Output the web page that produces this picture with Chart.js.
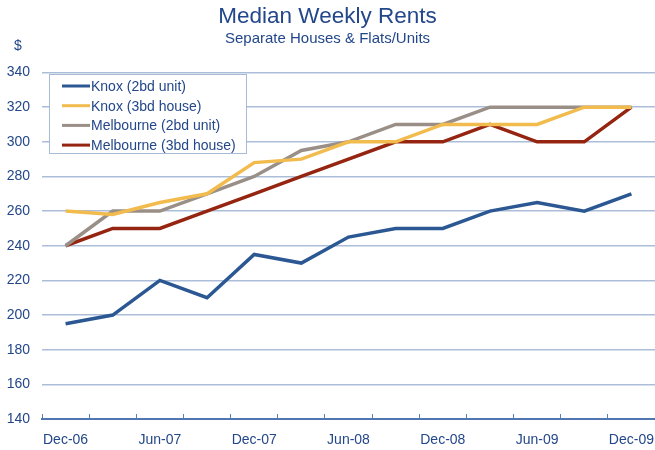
<!DOCTYPE html>
<html>
<head>
<meta charset="utf-8">
<script src="https://cdn.jsdelivr.net/npm/chart.js@4"></script>
<style>
  html, body { margin: 0; padding: 0; background: #fff; }
  #wrap { width: 655px; height: 450px; position: relative; }
</style>
</head>
<body>
<div id="wrap"><canvas id="chart"></canvas></div>
<script>
const quarters = ['Dec-06', 'Mar-07', 'Jun-07', 'Sep-07', 'Dec-07', 'Mar-08', 'Jun-08',
    'Sep-08', 'Dec-08', 'Mar-09', 'Jun-09', 'Sep-09', 'Dec-09'];

const knoxUnit = [195, 200, 220, 210, 235, 230, 245, 250, 250, 260, 265, 260, 270];
const knoxHouse = [260, 258, 265, 270, 288, 290, 300, 300, 310, 310, 310, 320, 320];
const melbUnit = [240, 260, 260, 270, 280, 295, 300, 310, 310, 320, 320, 320, 320];
const melbHouse = [240, 250, 250, 260, 270, 280, 290, 300, 300, 310, 300, 300, 320];

const seriesNames = ['Knox (2bd unit)', 'Knox (3bd house)', 'Melbourne (2bd unit)', 'Melbourne (3bd house)'];
const seriesColors = ['#2b5893', '#f2bb4e', '#9a8f87', '#952410'];

const navy = '#23478a';
const font = 'Arial, "Liberation Sans", sans-serif';

const line = (i, values) => ({
    label: seriesNames[i],
    data: values,
    borderColor: seriesColors[i],
    backgroundColor: seriesColors[i],
    borderWidth: 3.5,
    pointRadius: 0,
    tension: 0,
});

// legend box inside the plot + the "$" unit label
const extras = {
    id: 'extras',
    afterDraw(chart) {
        const ctx = chart.ctx;
        ctx.save();
        ctx.font = '14px ' + font;
        ctx.fillStyle = navy;
        ctx.textBaseline = 'middle';
        ctx.textAlign = 'center';
        ctx.fillText('$', 18, 46);

        const x0 = 49.5, y0 = 74.5, w = 197, h = 79;
        ctx.fillStyle = '#fff';
        ctx.fillRect(x0, y0, w, h);
        ctx.strokeStyle = '#a8bbd6';
        ctx.lineWidth = 1;
        ctx.strokeRect(x0, y0, w, h);

        ctx.textAlign = 'left';
        chart.data.datasets.forEach((ds, i) => {
            const y = 86 + i * 19.7;
            ctx.strokeStyle = ds.borderColor;
            ctx.lineWidth = 3;
            ctx.beginPath();
            ctx.moveTo(62, y);
            ctx.lineTo(90, y);
            ctx.stroke();
            ctx.fillStyle = navy;
            ctx.fillText(ds.label, 91, y + 1);
        });
        ctx.restore();
    },
};

new Chart(document.getElementById('chart'), {
    type: 'line',
    data: {
        labels: quarters,
        datasets: [
            line(0, knoxUnit),
            line(1, knoxHouse),
            line(2, melbUnit),
            line(3, melbHouse),
        ],
    },
    options: {
        responsive: true,
        maintainAspectRatio: false,
        animation: false,
        layout: { padding: 0 },
        plugins: {
            legend: { display: false },
            tooltip: { enabled: false },
            title: {
                display: true,
                text: 'Median Weekly Rents',
                color: navy,
                font: { family: font, size: 22.5, weight: 'normal' },
                padding: { top: 3, bottom: 0 },
            },
            subtitle: {
                display: true,
                text: 'Separate Houses & Flats/Units',
                color: navy,
                font: { family: font, size: 15, weight: 'normal' },
                padding: { top: 0, bottom: 24.5 },
            },
        },
        scales: {
            x: {
                type: 'category',
                offset: true,
                grid: {
                    offset: true,
                    drawOnChartArea: false,
                    drawTicks: true,
                    tickLength: -5,
                    color: '#5a7fb5',
                },
                border: { display: true, color: '#4f76b0', width: 2 },
                ticks: {
                    autoSkip: false,
                    maxRotation: 0,
                    padding: 18,
                    color: navy,
                    font: { family: font, size: 14 },
                    callback: (v, i) => (i % 2 === 0 ? quarters[i] : ''),
                },
                afterFit: (scale) => {
                    scale.height = 31;
                    scale.paddingLeft = 0;
                    scale.paddingRight = 0;
                },
            },
            y: {
                min: 140,
                max: 340,
                grid: {
                    drawTicks: false,
                    lineWidth: 1.5,
                    color: (c) => (c.tick && c.tick.value % 20 === 0 ? '#abbdd8' : '#d3d3d3'),
                },
                border: { display: false },
                ticks: {
                    stepSize: 10,
                    padding: 12,
                    color: navy,
                    font: { family: font, size: 14 },
                    callback: (v) => (v % 20 === 0 ? v : ''),
                },
                afterFit: (scale) => { scale.width = 42; },
            },
        },
    },
    plugins: [extras],
});
</script>
</body>
</html>
